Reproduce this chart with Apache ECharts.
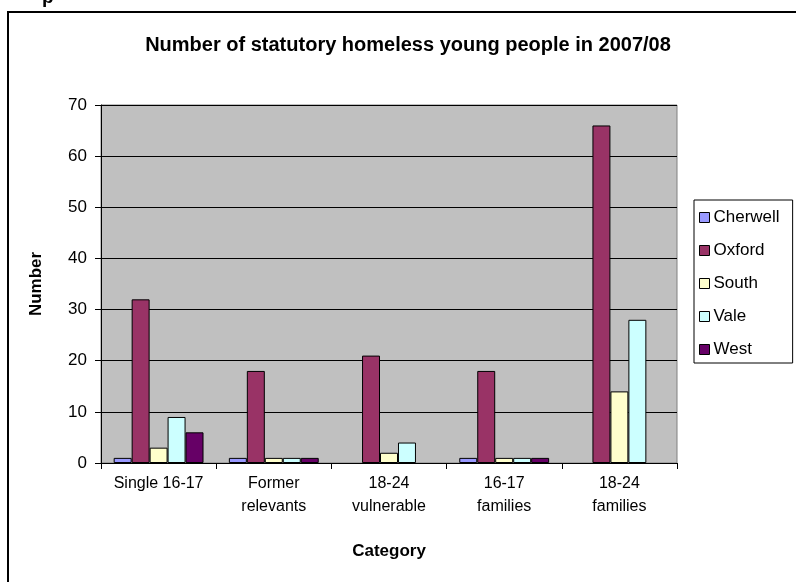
<!DOCTYPE html>
<html>
<head>
<meta charset="utf-8">
<script src="https://cdn.jsdelivr.net/npm/echarts@6/dist/echarts.min.js"></script>
<style>
  html, body { margin: 0; padding: 0; background: #fff; }
  #chart { width: 796px; height: 582px; }
</style>
</head>
<body>
<div id="chart"></div>
<script>
// Categories of statutory homeless young people
const categories = ['Single 16-17', 'Former\nrelevants', '18-24\nvulnerable', '16-17\nfamilies', '18-24\nfamilies'];

// Counts per district, in category order
const cherwell = [1, 1, 0, 1, 0];
const oxford   = [32, 18, 21, 18, 66];
const south    = [3, 1, 2, 1, 14];
const vale     = [9, 1, 4, 1, 28];
const west     = [6, 1, 0, 1, 0];

const districtNames = ['Cherwell', 'Oxford', 'South', 'Vale', 'West'];
const districtValues = [cherwell, oxford, south, vale, west];
const districtColors = ['#9999FF', '#993366', '#FFFFCC', '#CCFFFF', '#660066'];

const yTicks = { min: 0, max: 70, step: 10 };

const FONT = '"Liberation Sans", Arial, sans-serif';

const chart = echarts.init(document.getElementById('chart'), null, { renderer: 'canvas' });

const series = districtNames.map((name, i) => ({
  name: name,
  type: 'bar',
  data: districtValues[i].map(v => (v === 0 ? '-' : v)),
  barGap: '0%',
  barCategoryGap: '22%',
  itemStyle: {
    color: districtColors[i],
    borderColor: '#000',
    borderWidth: 1
  },
  emphasis: { disabled: true },
  animation: false
}));

chart.setOption({
  animation: false,
  backgroundColor: '#fff',
  title: {
    text: 'Number of statutory homeless young people in 2007/08',
    left: 403,
    textAlign: 'center',
    top: 30,
    textStyle: { fontFamily: FONT, fontWeight: 'bold', fontSize: 20, color: '#000' }
  },
  graphic: [
    {
      type: 'rect',
      shape: { x: 8, y: 12, width: 800, height: 600 },
      style: { fill: 'none', stroke: '#000', lineWidth: 2 },
      z: -1
    },
    {
      type: 'text',
      left: 42,
      top: -12,
      style: { text: 'p', font: 'bold 19px ' + FONT, fill: '#000' }
    }
  ],
  legend: {
    orient: 'vertical',
    left: 694,
    top: 200,
    padding: [9, 13, 5, 5],
    itemGap: 16,
    itemWidth: 10,
    itemHeight: 10,
    icon: 'rect',
    borderColor: '#000',
    borderWidth: 1,
    backgroundColor: '#fff',
    selectedMode: false,
    itemStyle: { borderColor: '#000', borderWidth: 1 },
    textStyle: { fontFamily: FONT, fontSize: 17, color: '#000', padding: [0, 0, 0, -1] },
    data: districtNames
  },
  grid: {
    left: 101,
    top: 105,
    width: 576,
    height: 358,
    show: true,
    backgroundColor: '#C0C0C0',
    borderColor: '#808080',
    borderWidth: 1,
    containLabel: false,
    outerBoundsMode: 'none'
  },
  xAxis: {
    type: 'category',
    data: categories,
    name: 'Category',
    nameLocation: 'middle',
    nameGap: 80,
    nameTextStyle: { fontFamily: FONT, fontWeight: 'bold', fontSize: 17, color: '#000' },
    axisLine: { lineStyle: { color: '#000', width: 1 } },
    axisTick: { show: true, length: 6, lineStyle: { color: '#000' } },
    axisLabel: {
      interval: 0,
      margin: 9,
      fontFamily: FONT,
      fontSize: 16,
      color: '#000',
      lineHeight: 23
    },
    splitLine: { show: false }
  },
  yAxis: {
    type: 'value',
    min: yTicks.min,
    max: yTicks.max,
    interval: yTicks.step,
    name: 'Number',
    nameLocation: 'middle',
    nameGap: 56,
    nameRotate: 90,
    nameTextStyle: { fontFamily: FONT, fontWeight: 'bold', fontSize: 17, color: '#000' },
    axisLine: { show: true, lineStyle: { color: '#000', width: 1 } },
    axisTick: { show: true, length: 6, lineStyle: { color: '#000' } },
    axisLabel: { margin: 14, fontFamily: FONT, fontSize: 17, color: '#000' },
    splitLine: { show: true, lineStyle: { color: '#000', width: 1 } }
  },
  series: series
});
</script>
</body>
</html>
